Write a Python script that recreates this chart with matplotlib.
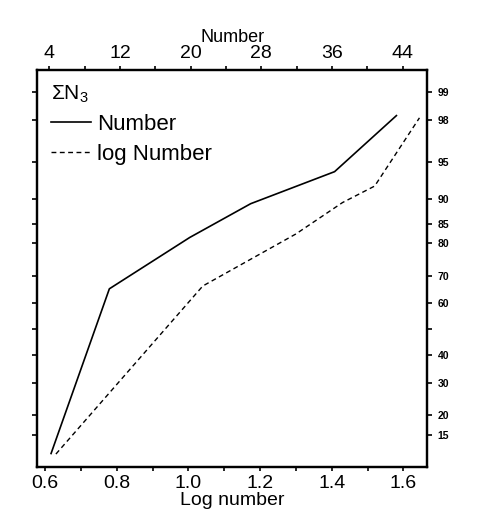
import numpy as np
import matplotlib
matplotlib.use("Agg")
import matplotlib.pyplot as plt
from matplotlib.ticker import FixedLocator, FixedFormatter, MultipleLocator, FormatStrFormatter
from statistics import NormalDist

plt.rcParams['font.family'] = ['Liberation Sans', 'DejaVu Sans']
plt.rcParams['mathtext.fontset'] = 'custom'
plt.rcParams['mathtext.rm'] = 'Liberation Sans'
plt.rcParams['mathtext.it'] = 'Liberation Sans:italic'

# Data
number_x = [4.2, 10.8, 19.9, 26.8, 36.3, 43.3]          # top axis: Number
number_cum = [11.1, 65.4, 81.6, 89.1, 93.9, 98.2]        # cumulative %
lognumber_x = [0.63, 1.04, 1.30, 1.43, 1.52, 1.645]      # bottom axis: Log number
lognumber_cum = [11.0, 66.4, 82.5, 89.3, 92.0, 98.1]     # cumulative %

prob_ticks = [15, 20, 30, 40, 50, 60, 70, 80, 85, 90, 95, 98, 99]
prob_labels = ['15', '20', '30', '40', '', '60', '70', '80', '85', '90', '95', '98', '99']
top_major = [4, 12, 20, 28, 36, 44]
bottom_major = [0.6, 0.8, 1.0, 1.2, 1.4, 1.6]

_nd = NormalDist()
_inv = np.vectorize(lambda v: _nd.inv_cdf(v), otypes=[float])
_cdf = np.vectorize(lambda v: _nd.cdf(v), otypes=[float])


def fwd(p):
    p = np.clip(np.asarray(p, dtype=float) / 100.0, 1e-9, 1 - 1e-9)
    return _inv(p)


def inv(z):
    return _cdf(np.asarray(z, dtype=float)) * 100.0


fig = plt.figure(figsize=(4.78, 5.20), dpi=100)
ax = fig.add_axes([0.078, 0.102, 0.816, 0.763])
ax.set_yscale('function', functions=(fwd, inv))
ax.set_ylim(8.8, 99.45)
ax.set_xlim(0.578, 1.667)

ax_top = ax.twiny()
ax_top.set_xlim(2.64, 46.8)

l2, = ax.plot(lognumber_x, lognumber_cum, color='black', lw=1.0,
              linestyle=(0, (3.5, 2.5)), label='log Number')
l1, = ax_top.plot(number_x, number_cum, color='black', lw=1.2,
                  label='Number')

for a in (ax, ax_top):
    for s in a.spines.values():
        s.set_linewidth(1.6)

ax.yaxis.set_major_locator(FixedLocator(prob_ticks))
ax.yaxis.set_major_formatter(FixedFormatter(prob_labels))
ax.yaxis.set_minor_locator(FixedLocator([]))
ax.tick_params(axis='y', which='both', left=True, right=True,
               labelleft=False, labelright=True, direction='out',
               length=3.5, width=1.2, labelsize=7.5, pad=4)
for t in ax.get_yticklabels():
    t.set_fontweight('bold')

ax.xaxis.set_major_locator(FixedLocator(bottom_major))
ax.xaxis.set_minor_locator(MultipleLocator(0.1))
ax.xaxis.set_major_formatter(FormatStrFormatter('%.1f'))
ax.tick_params(axis='x', which='both', direction='out', top=False,
               length=3, width=1.2, labelsize=14, pad=3)
ax.set_xlabel('Log number', fontsize=14, labelpad=0)

ax_top.xaxis.set_major_locator(FixedLocator(top_major))
ax_top.xaxis.set_minor_locator(MultipleLocator(4))
ax_top.tick_params(axis='x', which='both', direction='out', length=3,
                   width=1.2, labelsize=14, pad=3)
ax_top.set_xlabel('Number', fontsize=13, labelpad=2)
ax_top.tick_params(axis='y', which='both', left=False, right=False,
                   labelleft=False, labelright=False)

leg = ax_top.legend(handles=[l1, l2], loc='upper left', frameon=False,
                    title=r'$\mathrm{\Sigma N_3}$', fontsize=16,
                    title_fontsize=15, handlelength=1.8, handletextpad=0.3,
                    borderaxespad=0.2, labelspacing=0.4)
leg._legend_box.align = 'left'

fig.savefig('out.png', dpi=100)
